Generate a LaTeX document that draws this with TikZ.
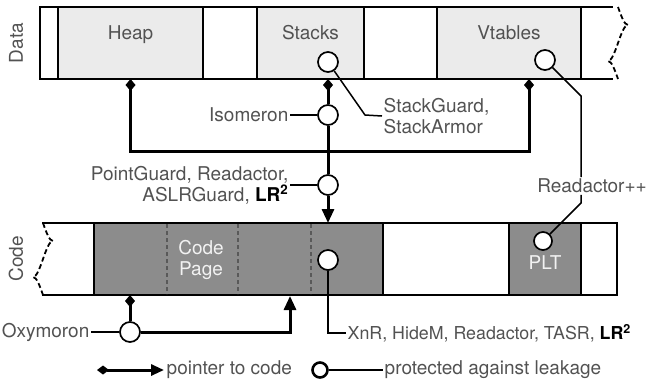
\documentclass[tikz,border=0pt]{standalone}
\usepackage{fontspec}
\setmainfont{TeX Gyre Heros}
\usetikzlibrary{arrows.meta}
\colorlet{strokeColor}{black}
\colorlet{textColor}{black!68}
\colorlet{dataColor}{black!8}
\colorlet{codeColor}{black!45}
\colorlet{pageTextColor}{black!5}
\tikzset{
  seg/.style={draw=strokeColor, line width=1.9pt, minimum height=72, inner sep=0pt, outer sep=0pt},
  dataseg/.style={seg, fill=dataColor},
  codeseg/.style={seg, fill=codeColor},
  lbl/.style={text=textColor, font=\fontsize{19}{21}\selectfont, inner sep=1.5pt},
  prot/.style={circle, draw=strokeColor, fill=white, line width=1.7pt, minimum size=20, inner sep=0pt},
  lead/.style={draw=strokeColor, line width=1.5pt},
  band/.style={draw=strokeColor, line width=1.9pt},
  wave/.style={draw=strokeColor, line width=1.8pt, dash pattern=on 5pt off 3pt},
  divider/.style={draw=black!65, line width=1.3pt, dash pattern=on 4pt off 3pt},
  ptr/.style={draw=strokeColor, line width=3pt},
  ptrtail/.style={ptr, {Diamond[length=12pt,width=10pt]}-},
  ptrhead/.style={ptr, -{Triangle[length=14pt,width=12pt]}},
  ptrboth/.style={ptr, {Diamond[length=12pt,width=9pt]}-{Triangle[length=13pt,width=11pt]}},
}

\begin{document}
\begin{tikzpicture}[x=1pt, y=-1pt]
  \useasboundingbox (0,0) rectangle (647,388);

  % data band
  \node[seg, minimum width=18] (dstart) at (49,43) {};
  \node[dataseg, minimum width=145] (heap) at (130.5,43) {};
  \node[seg, minimum width=54] (dgap1) at (230,43) {};
  \node[dataseg, minimum width=107] (stacks) at (310.5,43) {};
  \node[seg, minimum width=73] (dgap2) at (400.5,43) {};
  \node[dataseg, minimum width=144] (vtables) at (509,43) {};
  \draw[band] (vtables.north east) -- ++(32,0);
  \draw[band] (vtables.south east) -- ++(32,0);
  \draw[wave] (618,7) sin (628,25) cos (618,43) sin (608,61) cos (618,79);
  \node[lbl, anchor=base] (heaplbl) at (130.5,39) {Heap};
  \node[lbl, anchor=base] (stackslbl) at (310.5,39) {Stacks};
  \node[lbl, anchor=base] (vtableslbl) at (509,39) {Vtables};
  \node[lbl, rotate=90] (datalbl) at (16,43) {Data};

  % code band
  \node[codeseg, minimum width=289] (cpage) at (238.5,259) {};
  \node[seg, minimum width=126] (cgap) at (446,259) {};
  \node[codeseg, minimum width=72] (plt) at (545,259) {};
  \node[seg, minimum width=36] (cend) at (599,259) {};
  \draw[band] (cpage.north west) -- ++(-52,0);
  \draw[band] (cpage.south west) -- ++(-52,0);
  \draw[wave] (43,223) sin (53,241) cos (43,259) sin (33,277) cos (43,295);
  \foreach \d in {167,238,311}
    \draw[divider] (\d,224) -- (\d,294);
  \node[lbl, text=pageTextColor, align=center] (cpagelbl) at (201,260) {Code\\Page};
  \node[lbl, text=pageTextColor] (pltlbl) at (545,263) {PLT};
  \node[lbl, rotate=90] (codelbl) at (16,259) {Code};

  % protected pointers
  \node[prot] (stackcirc) at (328,62) {};
  \node[prot] (vtcirc) at (545,60) {};
  \node[prot] (isocirc) at (328,115) {};
  \node[prot] (pgcirc) at (328,185) {};
  \node[prot] (codecirc) at (328,260) {};
  \node[prot, minimum size=18] (pltcirc) at (543,241) {};
  \node[prot] (oxycirc) at (130,332) {};

  \coordinate (join) at (328,151);
  \coordinate (oxytgt) at (290,296);
  \draw[ptrtail] (stacks.south -| isocirc) -- (isocirc);
  \draw[ptr] (isocirc) -- (pgcirc);
  \draw[ptrhead] (pgcirc) -- (cpage.north -| pgcirc);
  \draw[ptrtail] (heap.south) |- (join);
  \draw[ptrtail] ([xshift=20]vtables.south) |- (join);
  \draw[ptrtail] (cpage.south -| oxycirc) -- (oxycirc);
  \draw[ptrhead] (oxycirc) -| (oxytgt);

  % labels
  \node[lbl, anchor=east] (isolbl) at (290,115) {Isomeron};
  \draw[lead] (isolbl) -- (isocirc);
  \node[lbl, anchor=east, align=right] (pglbl) at (290,185)
    {PointGuard, Readactor,\\ASLRGuard, \textcolor{black}{\bfseries LR\textsuperscript{2}}};
  \draw[lead] (pglbl.east) -- (pgcirc);
  \node[lbl, anchor=west, align=left] (sglbl) at (382,116) {StackGuard,\\StackArmor};
  \coordinate (sgbend) at (365,115);
  \draw[lead] (stackcirc) -- (sgbend) -- (sglbl.west);
  \node[lbl] (rdlbl) at (592,186) {Readactor++};
  \coordinate (vtbend) at (581,96);
  \coordinate (pltbend) at (581,203);
  \draw[lead] (vtcirc) -- (vtbend) -- (vtbend |- rdlbl.north);
  \draw[lead] (pltcirc) -- (pltbend) -- (pltbend |- rdlbl.south);
  \node[lbl, anchor=west, font=\fontsize{17.8}{21}\selectfont] (xnlbl) at (346,333)
    {XnR, HideM, Readactor, TASR, \textcolor{black}{\bfseries LR\textsuperscript{2}}};
  \draw[lead] (codecirc) |- (xnlbl.west);
  \node[lbl, anchor=east] (oxylbl) at (91,332) {Oxymoron};
  \draw[lead] (oxylbl) -- (oxycirc);

  % legend
  \coordinate (legfrom) at (97,370);
  \coordinate (legto) at (164,370);
  \draw[ptrboth] (legfrom) -- (legto);
  \node[lbl, anchor=west] (legptr) at (165,370) {pointer to code};
  \node[prot, minimum size=15, line width=2.6pt] (legcirc) at (320,370) {};
  \node[lbl, anchor=west] (legprot) at (383,370) {protected against leakage};
  \draw[lead] (legcirc) -- (legprot.west);
\end{tikzpicture}
\end{document}
